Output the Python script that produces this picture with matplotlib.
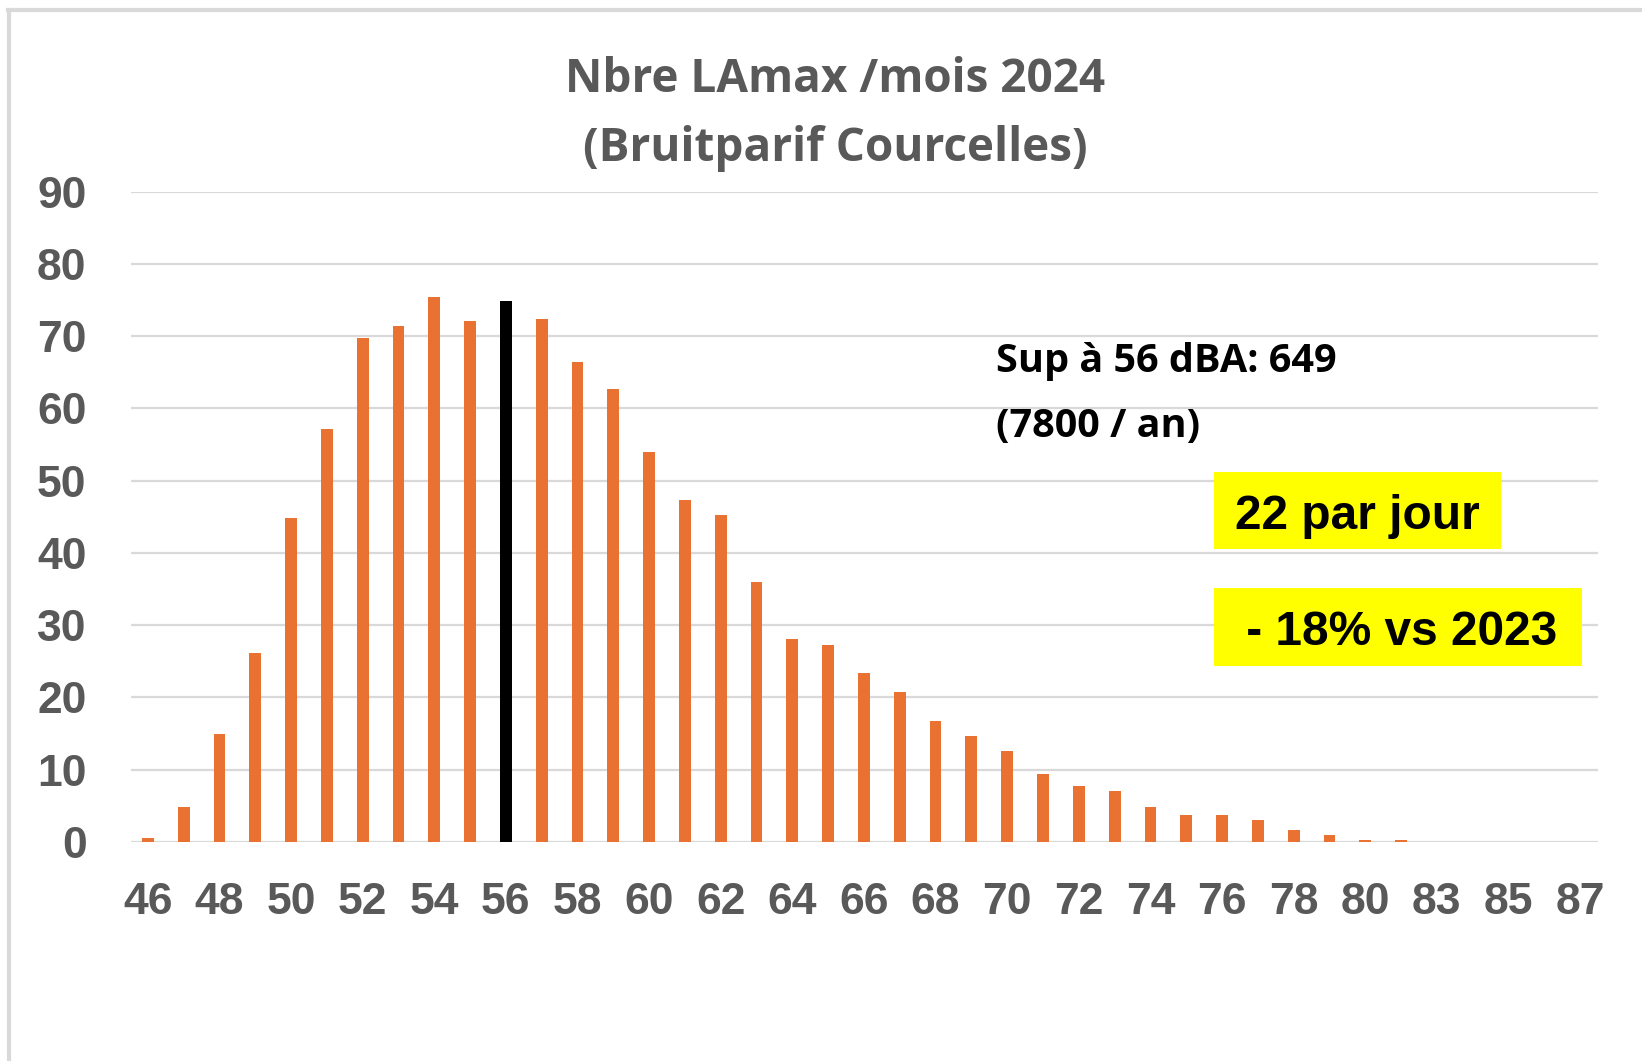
import matplotlib.pyplot as plt
from matplotlib.patches import Rectangle
from matplotlib.lines import Line2D

# ---------------------------------------------
# DATA
# ---------------------------------------------

levels = [46, 47, 48, 49, 50, 51, 52, 53, 54, 55, 56, 57, 58, 59, 60, 61, 62, 63,
          64, 65, 66, 67, 68, 69, 70, 71, 72, 73, 74, 75, 76, 77, 78, 79, 80, 81,
          83, 84, 85, 86, 87]

counts = [0.6, 4.8, 14.9, 26.2, 44.8, 57.1, 69.8, 71.4, 75.4, 72.1, 74.8, 72.4,
          66.4, 62.7, 54.0, 47.3, 45.2, 36.0, 28.1, 27.3, 23.4, 20.8, 16.8, 14.7,
          12.6, 9.4, 7.8, 7.0, 4.9, 3.8, 3.8, 3.0, 1.6, 0.9, 0.3, 0.3,
          0, 0, 0, 0, 0]

highlight_level = 56
y_ticks = [0, 10, 20, 30, 40, 50, 60, 70, 80, 90]

title_lines = ['Nbre LAmax /mois 2024', '(Bruitparif Courcelles)']
note_lines = ['Sup à 56 dBA: 649', '(7800 / an)']
box_texts = ['22 par jour', ' - 18% vs 2023']

# ---------------------------------------------
# STYLE
# ---------------------------------------------

W, H = 1642, 1061
ORANGE = '#E97132'
GREY_TXT = '#595959'
GRID = '#D9D9D9'
YELLOW = '#FFFF00'


def px(x, y):
    """pixel position -> figure fraction"""
    return x / W, 1 - y / H


fig = plt.figure(figsize=(W / 100, H / 100), dpi=100)
fig.patch.set_facecolor('white')

# outer chart frame (only top and left edges are visible)
fig.add_artist(Line2D([8 / W, 1], [1 - 10 / H, 1 - 10 / H], transform=fig.transFigure,
                      color=GRID, lw=3))
fig.add_artist(Line2D([9 / W, 9 / W], [0, 1 - 10 / H], transform=fig.transFigure,
                      color=GRID, lw=3))

ax_left, ax_right = 131, 1598
ax_top, ax_bottom = 191.6, 842
ax = fig.add_axes([ax_left / W, 1 - ax_bottom / H,
                   (ax_right - ax_left) / W, (ax_bottom - ax_top) / H])

positions = list(range(len(levels)))
colors = ['black' if lv == highlight_level else ORANGE for lv in levels]
ax.bar(positions, counts, width=0.33, color=colors, zorder=3)

ax.set_xlim(-0.47, len(levels) - 0.5)
ax.set_ylim(0, 90)

ax.set_yticks(y_ticks)
ax.set_yticklabels([str(v) for v in y_ticks])
ax.set_xticks(positions[::2])
ax.set_xticklabels([str(lv) for lv in levels[::2]])

for lab in ax.get_xticklabels() + ax.get_yticklabels():
    lab.set_fontfamily('Liberation Sans')
    lab.set_fontweight('bold')
    lab.set_fontsize(32)
    lab.set_color(GREY_TXT)

ax.tick_params(axis='both', length=0)
ax.tick_params(axis='x', pad=29)
ax.tick_params(axis='y', pad=32)

ax.grid(axis='y', color=GRID, linewidth=1.6)
ax.grid(axis='x', visible=False)
ax.set_axisbelow(True)
for side in ax.spines:
    ax.spines[side].set_visible(False)

# title
fig.text(*px(835, 79), title_lines[0], ha='center', va='center',
         fontfamily='Open Sans', fontweight='bold', fontsize=33, color=GREY_TXT)
fig.text(*px(835, 148), title_lines[1], ha='center', va='center',
         fontfamily='Open Sans', fontweight='bold', fontsize=33, color=GREY_TXT)

# annotation
fig.text(*px(996, 372), note_lines[0], ha='left', va='baseline',
         fontfamily='Open Sans', fontweight='bold', fontsize=28.5, color='black')
fig.text(*px(996, 437), note_lines[1], ha='left', va='baseline',
         fontfamily='Open Sans', fontweight='bold', fontsize=28.5, color='black')

# yellow boxes
for (x0, y0, x1, y1), (tx, ty), txt in zip(
        [(1214, 472, 1501, 549), (1214, 588, 1582, 666)],
        [(1235, 529), (1233, 645)],
        box_texts):
    fig.add_artist(Rectangle(px(x0, y1), (x1 - x0) / W, (y1 - y0) / H,
                             transform=fig.transFigure, facecolor=YELLOW,
                             edgecolor='none', zorder=5))
    fig.text(*px(tx, ty), txt, ha='left', va='baseline', zorder=6,
             fontfamily='Liberation Sans', fontweight='bold', fontsize=34.5,
             color='black')

fig.savefig('out.png', dpi=100, facecolor='white')
